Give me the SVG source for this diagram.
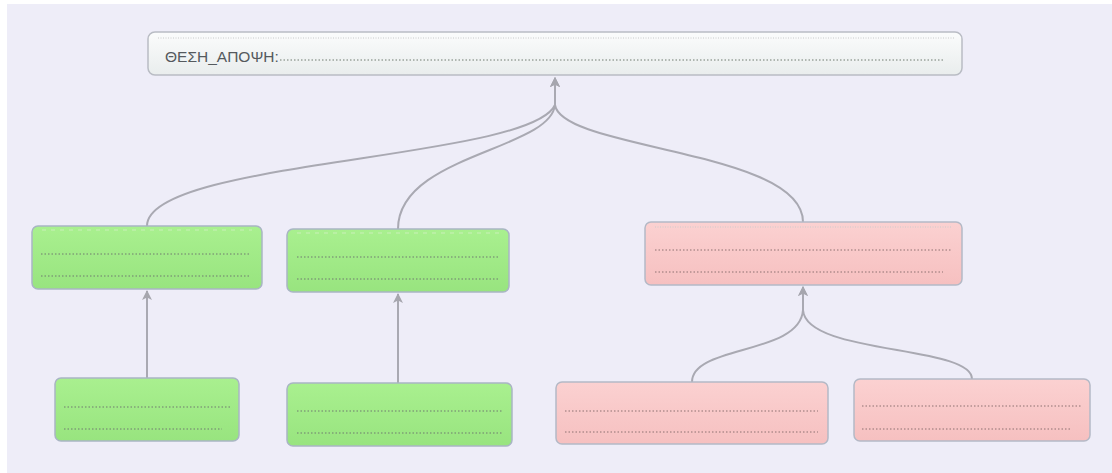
<svg xmlns="http://www.w3.org/2000/svg" width="1112" height="473" viewBox="0 0 1112 473">
<defs>
<linearGradient id="gTop" x1="0" y1="0" x2="0" y2="1"><stop offset="0" stop-color="#fbfcfc"/><stop offset="1" stop-color="#e9eded"/></linearGradient>
<linearGradient id="gGreen" x1="0" y1="0" x2="0" y2="1"><stop offset="0" stop-color="#a9f08f"/><stop offset="1" stop-color="#98e47f"/></linearGradient>
<linearGradient id="gRed" x1="0" y1="0" x2="0" y2="1"><stop offset="0" stop-color="#fbd1d1"/><stop offset="1" stop-color="#f6c0c0"/></linearGradient>
<marker id="arr" viewBox="0 0 10 10" refX="9" refY="5" markerWidth="11" markerHeight="10" orient="auto" markerUnits="userSpaceOnUse"><path d="M0,0 L10,5 L0,10 L2.5,5 z" fill="#a6a6ae"/></marker>
</defs>
<style>
.top{fill:url(#gTop);stroke:#b9bcc4;stroke-width:1.5}
.green{fill:url(#gGreen);stroke:#a9b5c4;stroke-width:1.5}
.red{fill:url(#gRed);stroke:#b4b9c6;stroke-width:1.5}
.dot{stroke:#6f7a6f;stroke-width:1;stroke-dasharray:1.5 2;fill:none}
.dotr{stroke:#8d7070;stroke-width:1;stroke-dasharray:1.5 2;fill:none}
.faint{stroke:#c9cccc;stroke-width:1;stroke-dasharray:1 1.5;fill:none}
.faintg{stroke:#c9f0b8;stroke-width:1;stroke-dasharray:4 5;fill:none}
.edge{stroke:#a9a9b2;stroke-width:2;fill:none}
.lbl{font-family:"Liberation Sans",Arial,sans-serif;font-size:15.5px;fill:#555a5e}
</style>
<rect x="0" y="0" width="1112" height="473" fill="#ffffff"/>
<rect x="7" y="4" width="1105" height="469" fill="#eeedf8"/>
<g id="connectors">
<path class="edge" d="M147,226 C147,160 530,160 555,105 L555,78" marker-end="url(#arr)"/>
<path class="edge" d="M398,229 C398,155 550,150 555,105 L555,78" marker-end="url(#arr)"/>
<path class="edge" d="M803,222 C803,150 562,150 555,105 L555,78" marker-end="url(#arr)"/>
<path class="edge" d="M147,378 L147,291" marker-end="url(#arr)"/>
<path class="edge" d="M398,383 L398,294" marker-end="url(#arr)"/>
<path class="edge" d="M692,382 C692,345 800,355 803,310 L803,287" marker-end="url(#arr)"/>
<path class="edge" d="M972,379 C972,345 806,355 803,310 L803,287" marker-end="url(#arr)"/>
</g>
<g id="node-top">
<rect class="top" x="148" y="32" width="814" height="43" rx="7"/>
<line class="faint" x1="158" y1="38" x2="955" y2="38"/>
<text class="lbl" x="165" y="62">ΘΕΣΗ_ΑΠΟΨΗ:</text>
<line class="dot" x1="280" y1="60" x2="944" y2="60"/>
</g>
<g id="node-g1">
<rect class="green" x="32" y="226" width="230" height="63" rx="6"/>
<line class="faintg" x1="42" y1="230" x2="252" y2="230"/>
<line class="dot" x1="41" y1="254" x2="251" y2="254"/>
<line class="dot" x1="41" y1="276" x2="251" y2="276"/>
</g>
<g id="node-g2">
<rect class="green" x="287" y="229" width="222" height="63" rx="6"/>
<line class="faintg" x1="297" y1="233" x2="499" y2="233"/>
<line class="dot" x1="297" y1="257" x2="499" y2="257"/>
<line class="dot" x1="297" y1="279" x2="499" y2="279"/>
</g>
<g id="node-r1">
<rect class="red" x="645" y="222" width="317" height="63" rx="6"/>
<line class="faint" x1="655" y1="227" x2="952" y2="227"/>
<line class="dotr" x1="655" y1="250" x2="952" y2="250"/>
<line class="dotr" x1="655" y1="272" x2="943" y2="272"/>
</g>
<g id="node-g3">
<rect class="green" x="55" y="378" width="184" height="63" rx="6"/>
<line class="dot" x1="64" y1="407" x2="231" y2="407"/>
<line class="dot" x1="64" y1="429" x2="222" y2="429"/>
</g>
<g id="node-g4">
<rect class="green" x="287" y="383" width="225" height="63" rx="6"/>
<line class="dot" x1="297" y1="411" x2="503" y2="411"/>
<line class="dot" x1="297" y1="433" x2="503" y2="433"/>
</g>
<g id="node-r2">
<rect class="red" x="556" y="382" width="272" height="62" rx="6"/>
<line class="dotr" x1="565" y1="411" x2="818" y2="411"/>
<line class="dotr" x1="565" y1="432" x2="818" y2="432"/>
</g>
<g id="node-r3">
<rect class="red" x="854" y="379" width="236" height="62" rx="6"/>
<line class="dotr" x1="862" y1="406" x2="1082" y2="406"/>
<line class="dotr" x1="862" y1="429" x2="1072" y2="429"/>
</g>
</svg>
